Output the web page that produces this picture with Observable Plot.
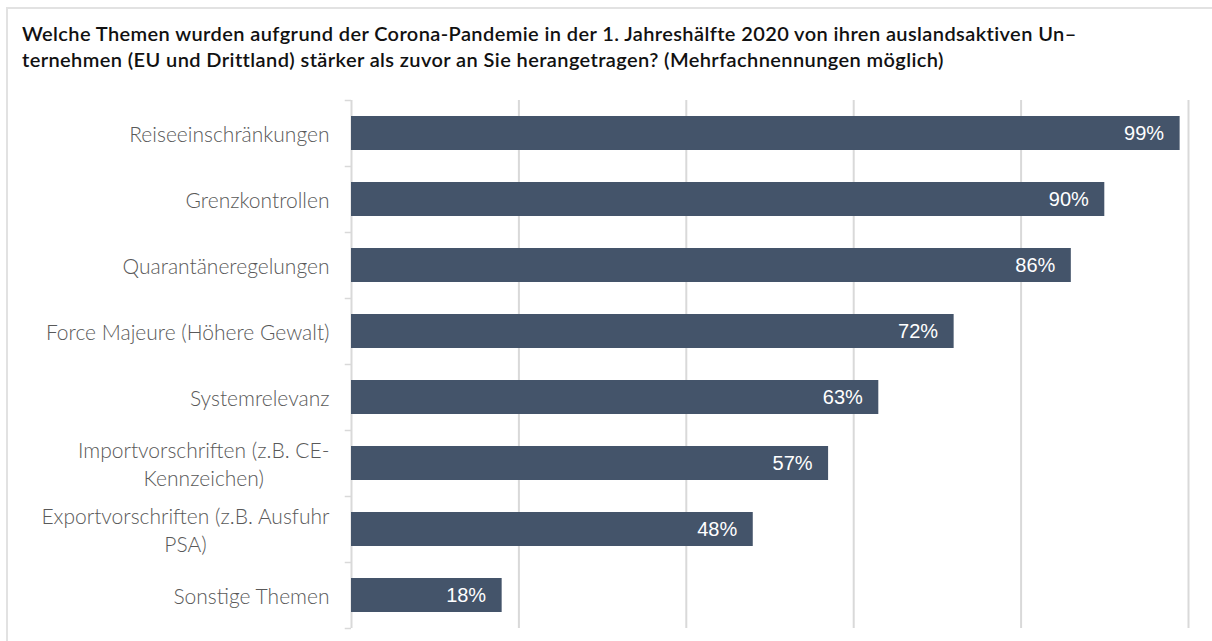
<!DOCTYPE html>
<html>
<head>
<meta charset="utf-8">
<script src="https://cdn.jsdelivr.net/npm/d3@7"></script>
<script src="https://cdn.jsdelivr.net/npm/@observablehq/plot@0.6"></script>
<style>
  html, body { margin: 0; padding: 0; background: #fff; width: 1212px; height: 641px; overflow: hidden; }
  #frame { position: absolute; left: 6px; top: 7px; width: 1300px; height: 800px; border: 2px solid #e2e2e2; box-sizing: border-box; }
  #title { position: absolute; left: 22px; top: 20px; font-family: Lato, "Open Sans", sans-serif; font-weight: 600; font-size: 20px; letter-spacing: 0.4px; line-height: 26px; color: #111; white-space: nowrap; }
  #chart { position: absolute; left: 0; top: 80px; }
</style>
</head>
<body>
<div id="frame"></div>
<div id="title">Welche Themen wurden aufgrund der Corona-Pandemie in der 1. Jahreshälfte 2020 von ihren auslandsaktiven Un–<br>ternehmen (EU und Drittland) stärker als zuvor an Sie herangetragen? (Mehrfachnennungen möglich)</div>
<div id="chart"></div>
<script>
const categories = [
  "Reiseeinschränkungen",
  "Grenzkontrollen",
  "Quarantäneregelungen",
  "Force Majeure (Höhere Gewalt)",
  "Systemrelevanz",
  "Importvorschriften (z.B. CE-\nKennzeichen)",
  "Exportvorschriften (z.B. Ausfuhr\nPSA)",
  "Sonstige Themen"
];
const values = [99, 90, 86, 72, 63, 57, 48, 18];
const valueLabels = ["99%", "90%", "86%", "72%", "63%", "57%", "48%", "18%"];
const gridTicks = [0, 20, 40, 60, 80, 100];

const data = categories.map((c, i) => ({category: c, value: values[i], label: valueLabels[i]}));

const barColor = "#44546a";
const gridColor = "#d9d9d9";

const chart = Plot.plot({
  width: 1212,
  height: 561,
  marginTop: 20,
  marginBottom: 13,
  marginLeft: 351,
  marginRight: 24,
  style: {background: "transparent", overflow: "visible"},
  x: {domain: [0, 100], axis: null},
  y: {domain: categories, padding: 0, axis: null},
  marks: [
    Plot.ruleX(gridTicks, {stroke: gridColor, strokeWidth: 2}),
    Plot.ruleY(categories, {y: d => d, x1: -0.75, x2: 0, dy: -33, stroke: gridColor, strokeWidth: 1.5}),
    Plot.ruleY([categories[categories.length - 1]], {y: d => d, x1: -0.75, x2: 0, dy: 33, stroke: gridColor, strokeWidth: 1.5}),
    Plot.barX(data, {y: "category", x: "value", fill: barColor, insetTop: 16, insetBottom: 16}),
    Plot.text(data, {y: "category", x: "value", text: "label", textAnchor: "end", dx: -16, fill: "white",
      fontSize: 20, fontFamily: "'Liberation Sans', Arial, sans-serif", letterSpacing: -0.6}),
    Plot.axisY({tickSize: 0, tickPadding: 22, label: null, fontSize: 21, fontFamily: "Lato, 'Open Sans', sans-serif",
      fontWeight: 300, letterSpacing: 0.15, lineHeight: 1.33, color: "#595959", fill: "#595959"})
  ]
});
document.getElementById("chart").appendChild(chart);

// center multi-line category labels within their right-aligned block
chart.querySelectorAll('g[aria-label="y-axis tick label"] text').forEach(t => {
  const spans = t.querySelectorAll("tspan");
  if (spans.length > 1) {
    let w = 0;
    spans.forEach(s => { w = Math.max(w, s.getComputedTextLength()); });
    t.setAttribute("text-anchor", "middle");
    spans.forEach(s => s.setAttribute("x", -w / 2));
  }
});
</script>
</body>
</html>
